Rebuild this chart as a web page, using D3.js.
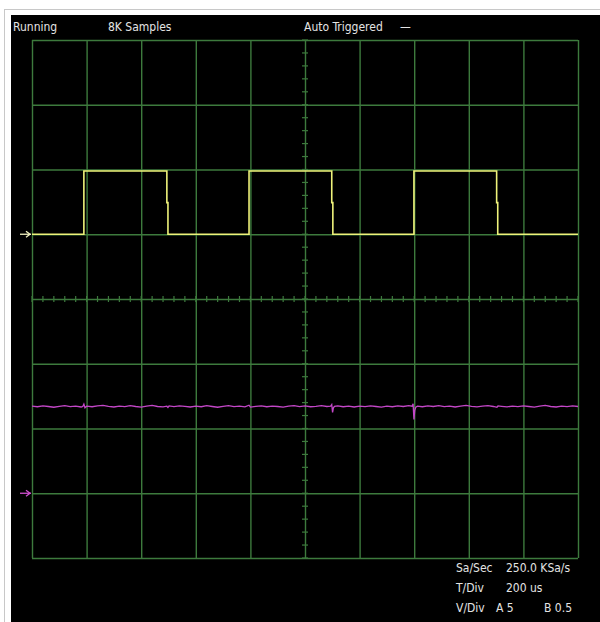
<!DOCTYPE html>
<html>
<head>
<meta charset="utf-8">
<script src="https://cdn.jsdelivr.net/npm/d3@7"></script>
<style>
  html, body { margin: 0; padding: 0; background: #fff; }
  text { font-family: "Liberation Sans Narrow", "DejaVu Sans Condensed", "Liberation Sans", sans-serif; fill: #e4e4e4; }
</style>
</head>
<body>
<div id="scope"></div>
<script>
const width = 600;
const height = 622;

// time axis (us) and division settings
const timeDivs = d3.range(0, 2001, 200);
const voltDivs = d3.range(-4, 5, 1);
const voltsPerDivA = 5;
const voltsPerDivB = 0.5;
const groundDivA = 1;
const groundDivB = -3;

// channel A: square wave, [time us, volts]
const traceA = [
  [0, 0], [190, 0], [190, 4.88], [494, 4.88], [494, 2.44], [498, 2.44], [498, 0],
  [795, 0], [795, 4.88], [1098, 4.88], [1098, 2.44], [1102, 2.44], [1102, 0],
  [1399, 0], [1399, 4.88], [1702, 4.88], [1702, 2.44], [1706, 2.44], [1706, 0],
  [2000, 0]
];

// channel B: flat, noisy, with glitches at the A edges
const traceB = [
  [0, 0.672], [20, 0.668], [40, 0.675], [60, 0.670], [80, 0.664], [100, 0.671], [120, 0.677], [140, 0.669], [160, 0.673], [180, 0.666],
  [186, 0.670], [190, 0.688], [194, 0.660],
  [200, 0.672], [220, 0.668], [240, 0.674], [260, 0.679], [280, 0.671], [300, 0.666], [320, 0.673], [340, 0.669], [360, 0.676], [380, 0.670],
  [400, 0.665], [420, 0.672], [440, 0.678], [460, 0.670], [480, 0.667],
  [494, 0.672], [498, 0.662], [502, 0.674],
  [520, 0.669], [540, 0.675], [560, 0.671], [580, 0.666], [600, 0.673], [620, 0.668], [640, 0.676], [660, 0.670], [680, 0.664], [700, 0.671],
  [720, 0.677], [740, 0.669], [760, 0.672], [780, 0.667],
  [795, 0.680], [800, 0.665],
  [820, 0.671], [840, 0.674], [860, 0.668], [880, 0.673], [900, 0.670], [920, 0.665], [940, 0.672], [960, 0.677], [980, 0.669], [1000, 0.674],
  [1020, 0.668], [1040, 0.671], [1060, 0.676], [1080, 0.670],
  [1094, 0.672], [1098, 0.685], [1101, 0.625], [1104, 0.660], [1108, 0.671],
  [1120, 0.675], [1140, 0.668], [1160, 0.672], [1180, 0.666], [1200, 0.673], [1220, 0.669], [1240, 0.675], [1260, 0.670], [1280, 0.665],
  [1300, 0.672], [1320, 0.668], [1340, 0.674], [1360, 0.670], [1380, 0.676],
  [1392, 0.672], [1396, 0.690], [1399, 0.570], [1402, 0.640], [1406, 0.665], [1412, 0.672],
  [1430, 0.668], [1450, 0.674], [1470, 0.670], [1490, 0.677], [1510, 0.669], [1530, 0.673], [1550, 0.666], [1570, 0.672], [1590, 0.678],
  [1610, 0.671], [1630, 0.667], [1650, 0.673], [1670, 0.676], [1690, 0.670],
  [1703, 0.664], [1707, 0.674],
  [1720, 0.671], [1740, 0.667], [1760, 0.673], [1780, 0.669], [1800, 0.675], [1820, 0.670], [1840, 0.665], [1860, 0.672], [1880, 0.678],
  [1900, 0.670], [1920, 0.666], [1940, 0.673], [1960, 0.669], [1980, 0.674], [2000, 0.670]
];

const topLabels = [
  { text: "Running", x: 13 },
  { text: "8K Samples", x: 108 },
  { text: "Auto Triggered", x: 304 },
  { text: "—", x: 400 }
];
const infoRows = [
  ["Sa/Sec", "250.0 KSa/s", ""],
  ["T/Div", "200 us", ""],
  ["V/Div", "A 5", "B 0.5"]
];

const svg = d3.select("#scope")
  .append("svg")
  .attr("width", width)
  .attr("height", height);

// frame + screen
svg.append("rect")
  .attr("x", 4.5).attr("y", 9.5)
  .attr("width", 700).attr("height", 700)
  .attr("fill", "#fff").attr("stroke", "#c8c8c8");
svg.append("rect")
  .attr("x", 11).attr("y", 15)
  .attr("width", width - 11).attr("height", height - 15)
  .attr("fill", "#000");

const x = d3.scaleLinear().domain([0, 2000]).range([32, 578]);
const yDiv = d3.scaleLinear().domain([-4, 4]).range([558, 40]);
const yA = v => yDiv(v / voltsPerDivA + groundDivA);
const yB = v => yDiv(v / voltsPerDivB + groundDivB);

const gridColor = "#3d7a3d";

// GRID
const grid = svg.append("g");
grid.append("g")
  .attr("transform", `translate(0,${yDiv(-4)})`)
  .call(d3.axisBottom(x).tickValues(timeDivs).tickSize(-(yDiv(-4) - yDiv(4))).tickFormat(""))
  .call(g => g.select(".domain").remove())
  .selectAll("line").attr("stroke", gridColor).attr("stroke-width", 1.4);
grid.append("g")
  .attr("transform", `translate(${x(0)},0)`)
  .call(d3.axisLeft(yDiv).tickValues(voltDivs).tickSize(-(x(2000) - x(0))).tickFormat(""))
  .call(g => g.select(".domain").remove())
  .selectAll("line").attr("stroke", gridColor).attr("stroke-width", 1.4);

// center minor ticks
const minorT = d3.range(0, 2001, 40);
const minorV = d3.range(-4, 4.01, 0.2);
grid.selectAll(".mt")
  .data(minorT)
  .enter().append("line")
  .attr("x1", d => x(d)).attr("x2", d => x(d))
  .attr("y1", yDiv(0) - 3).attr("y2", yDiv(0) + 3)
  .attr("stroke", gridColor).attr("stroke-width", 1.2);
grid.selectAll(".mv")
  .data(minorV)
  .enter().append("line")
  .attr("y1", d => yDiv(d)).attr("y2", d => yDiv(d))
  .attr("x1", x(1000) - 3).attr("x2", x(1000) + 3)
  .attr("stroke", gridColor).attr("stroke-width", 1.2);

// TRACES
const lineA = d3.line().x(d => x(d[0])).y(d => yA(d[1]));
const lineB = d3.line().x(d => x(d[0])).y(d => yB(d[1]));

svg.append("path")
  .datum(traceB)
  .attr("d", lineB)
  .attr("fill", "none")
  .attr("stroke", "#c447c8")
  .attr("stroke-width", 1.3);

svg.append("path")
  .datum(traceA)
  .attr("d", lineA)
  .attr("fill", "none")
  .attr("stroke", "#eef27a")
  .attr("stroke-width", 1.6);

// ground markers
function marker(yPos, color) {
  const g = svg.append("g").attr("stroke", color).attr("stroke-width", 1.3).attr("fill", "none");
  g.append("line").attr("x1", 20).attr("x2", 31).attr("y1", yPos).attr("y2", yPos);
  g.append("path").attr("d", `M26,${yPos - 3}L30,${yPos}L26,${yPos + 3}`);
}
marker(yA(0), "#f2f2c0");
marker(yB(0), "#d050d0");

// TEXT
svg.selectAll(".top")
  .data(topLabels)
  .enter().append("text")
  .attr("x", d => d.x)
  .attr("y", 31)
  .attr("font-size", 12)
  .text(d => d.text);

const rows = svg.selectAll(".info")
  .data(infoRows)
  .enter().append("g")
  .attr("transform", (d, i) => `translate(0,${572 + i * 20})`);
rows.append("text").attr("x", 456).attr("font-size", 12).text(d => d[0]);
rows.append("text").attr("x", (d, i) => i === 2 ? 496 : 506).attr("font-size", 12).text(d => d[1]);
rows.append("text").attr("x", 544).attr("font-size", 12).text(d => d[2]);
</script>
</body>
</html>
